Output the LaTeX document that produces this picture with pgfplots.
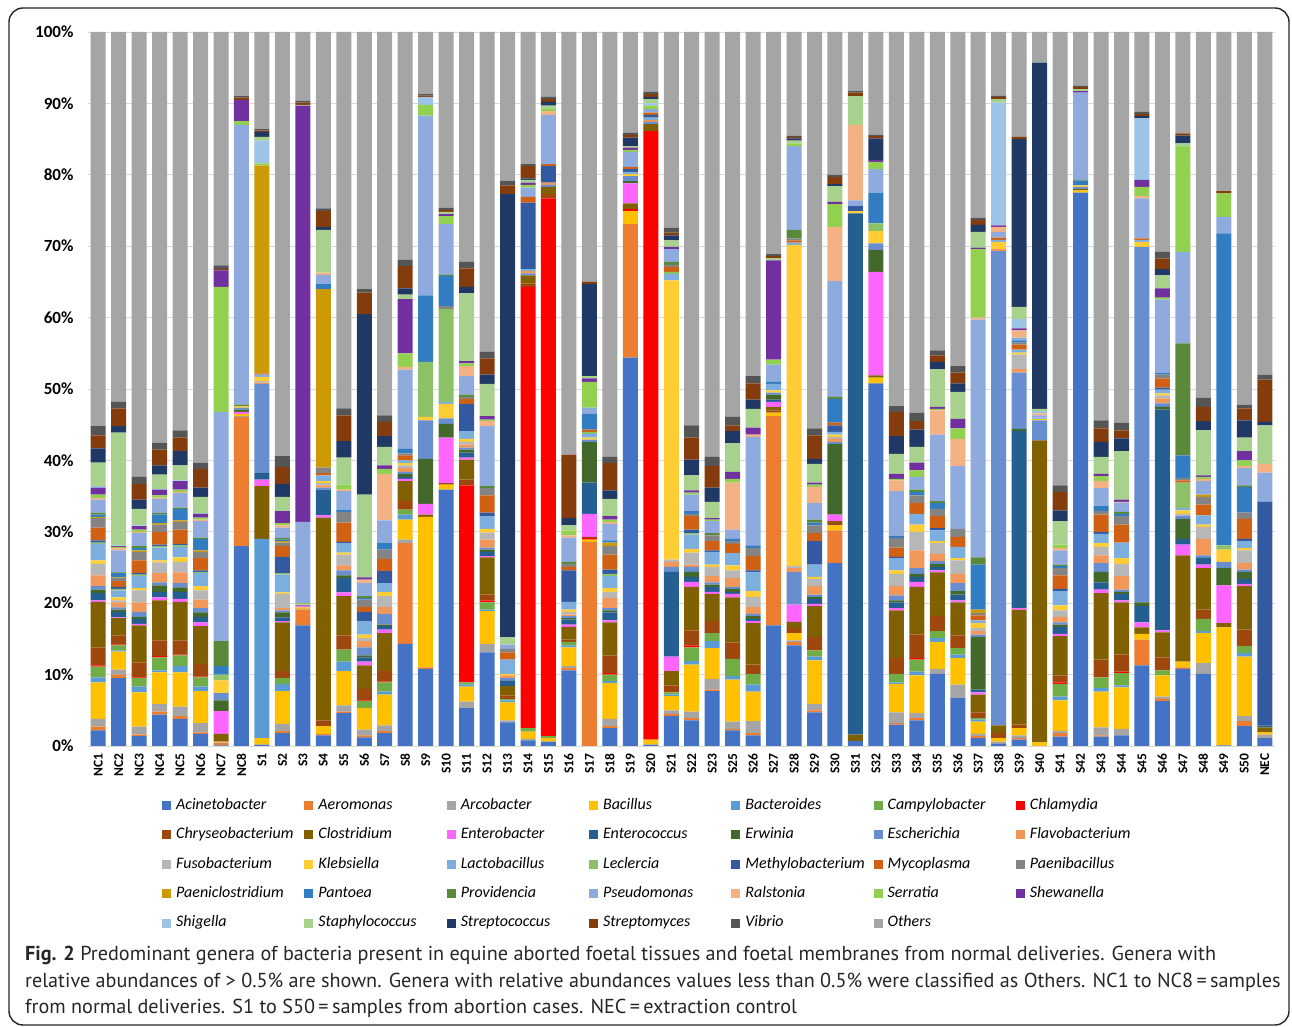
\documentclass[border=0pt]{standalone}
\usepackage{pgfplots}
\usepackage{pgfplotstable}
\pgfplotsset{compat=1.18}
\usepackage{fontspec}
\setmainfont{Carlito}
\newfontfamily\capfont{PT Sans}

% genus colours
\definecolor{cAci}{HTML}{4472C4}
\definecolor{cAer}{HTML}{ED7D31}
\definecolor{cArc}{HTML}{A5A5A5}
\definecolor{cBac}{HTML}{FFC000}
\definecolor{cBact}{HTML}{5B9BD5}
\definecolor{cCamp}{HTML}{70AD47}
\definecolor{cChla}{HTML}{FF0000}
\definecolor{cChry}{HTML}{9E480E}
\definecolor{cClos}{HTML}{806000}
\definecolor{cEntb}{HTML}{FF66FF}
\definecolor{cEntc}{HTML}{255E91}
\definecolor{cErw}{HTML}{43682B}
\definecolor{cEsch}{HTML}{698ED0}
\definecolor{cFlav}{HTML}{F1975A}
\definecolor{cFuso}{HTML}{B7B7B7}
\definecolor{cKleb}{HTML}{FFCD33}
\definecolor{cLact}{HTML}{7CAFDD}
\definecolor{cLecl}{HTML}{8CC168}
\definecolor{cMeth}{HTML}{335AA1}
\definecolor{cMyco}{HTML}{D06014}
\definecolor{cPaeb}{HTML}{848484}
\definecolor{cPaec}{HTML}{CC9A06}
\definecolor{cPant}{HTML}{327DC2}
\definecolor{cProv}{HTML}{5A8A39}
\definecolor{cPseu}{HTML}{8FAADC}
\definecolor{cRalst}{HTML}{F4B183}
\definecolor{cSerr}{HTML}{92D050}
\definecolor{cShew}{HTML}{7030A0}
\definecolor{cShig}{HTML}{9DC3E6}
\definecolor{cStaph}{HTML}{A9D18E}
\definecolor{cStrc}{HTML}{203864}
\definecolor{cStrm}{HTML}{843C0C}
\definecolor{cVib}{HTML}{555555}
\definecolor{cOth}{HTML}{A5A5A5}
\definecolor{gridgray}{HTML}{D9D9D9}

% relative abundance (%) per sample
\pgfplotstableread{
Sample Aci Aer Arc Bac Bact Camp Chla Chry Clos Entb Entc Erw Esch Flav Fuso Kleb Lact Lecl Meth Myco Paeb Paec Pant Prov Pseu Ralst Serr Shew Shig Staph Strc Strm Vib Oth
NC1 2.2 0.5 1.1 5.1 0.7 1.5 0.2 2.5 6.4 0.2 1.0 0.5 0.5 1.5 1.6 0.5 2.3 0.2 0.3 1.8 1.3 0.2 0.3 0.3 1.8 0.2 0.5 1.0 0.2 3.3 2.0 1.8 1.3 55.2
NC2 9.5 0.5 0.7 2.5 0.2 0.7 0.1 1.3 2.4 0.1 0.8 0.3 0.3 0.7 0.3 0.4 1.0 0.2 0.3 0.8 0.4 0.1 0.6 0.1 3.1 0.3 0.2 0.1 0.1 15.8 0.9 2.5 0.9 51.8
NC3 1.4 0.2 1.1 4.8 0.8 1.2 0.1 2.1 5.2 0.2 0.7 0.3 0.7 1.3 1.7 0.3 1.7 0.2 0.2 1.8 1.2 0.2 0.3 0.3 1.8 0.2 0.3 0.5 0.1 2.3 1.3 2.2 1.0 62.3
NC4 4.4 0.4 1.1 4.4 0.3 1.8 0.2 2.2 5.6 0.4 0.8 0.9 0.4 1.3 1.5 0.3 1.8 0.2 0.2 1.8 1.0 0.2 1.2 0.2 2.0 0.2 0.3 0.8 0.1 2.0 1.3 2.2 1.0 57.5
NC5 3.8 0.4 1.3 4.8 0.9 1.5 0.1 2.0 5.4 0.4 1.0 0.6 0.6 1.5 1.5 0.6 1.5 0.2 0.2 2.0 1.1 0.2 1.6 0.2 2.0 0.2 0.3 1.2 0.1 2.1 2.0 1.9 1.0 55.8
NC6 1.7 0.2 1.3 4.5 0.6 1.3 0.1 1.8 5.3 0.5 0.8 0.6 0.6 1.2 1.3 0.6 1.8 0.2 0.2 1.7 0.9 0.2 1.6 0.2 2.3 0.2 0.3 0.5 0.1 2.3 1.3 2.6 0.9 60.3
NC7 0.1 0.3 0.1 0.1 0 0 0 0.1 1.0 3.2 0 1.5 1.0 0 0 1.8 0 0.8 0 0 0 0 1.2 3.5 32.1 0 17.5 2.3 0 0 0 0.2 0.5 32.7
NC8 28.0 18.1 0.1 0.3 0 0 0 0 0 0.3 0 0.3 0.3 0 0 0.2 0 0 0 0 0 0 0 0.2 39.2 0 0.5 3.0 0 0 0 0.3 0.2 9.0
S1 0.2 0 0 0.9 27.9 0 0 0 7.4 0.9 0.9 0 12.5 0.2 0.2 0.6 0.3 0 0 0.2 0 29.1 0 0 0 0 0.3 0 3.2 0.5 0.7 0.2 0.2 13.6
S2 1.8 0.3 1.0 4.6 1.0 0.8 0 1.0 6.8 0.2 0.5 0.7 0.3 0.3 2.0 0.2 2.5 0.2 2.3 1.5 0.5 0.2 0.2 0.2 1.5 0.3 0.3 1.7 0 2.0 1.8 2.4 1.5 59.4
S3 16.9 2.2 0.1 0.2 0 0 0 0 0 0.2 0 0 0.2 0 0 0.1 0 0.1 0 0 0 0 0 0 11.4 0 0 58.3 0 0.1 0 0.3 0.3 9.6
S4 1.5 0.2 0 1.1 0 0 0 0.8 28.4 0.3 3.6 0 0.3 0.3 0.3 0.3 0.8 0 0 0.3 0.8 25.0 0.7 0 1.3 0.3 0 0 0 6.0 0.4 2.2 0.4 24.7
S5 4.6 0.2 0.9 4.8 1.3 1.7 0 2.0 5.5 0.5 2.0 0.4 0.7 0.7 1.5 0.3 1.3 0 0.2 2.7 1.5 0 0.3 0 2.6 0.2 0.7 0 0 3.8 2.3 3.6 1.0 52.7
S6 1.2 0.3 0.8 3.0 0 1.0 0.1 1.6 3.3 0.5 0.6 0.3 1.1 0.9 0.4 0.5 1.9 0 1.3 0.7 1.0 0 0.2 0.3 1.8 0.5 0 0.3 0 11.6 25.3 3.0 0.5 36.0
S7 1.8 0.3 0.8 4.3 0.4 1.3 0.1 1.5 5.3 0.5 0.5 0.2 1.5 1.0 1.5 0.6 1.2 0 1.7 1.7 1.3 0 1.0 0 3.1 6.5 0.7 0.5 0 2.6 1.5 2.0 0.9 53.7
S8 14.3 14.1 0.5 2.8 0.7 0.7 0 1.2 2.8 0.3 0.3 0.4 0.3 0.5 0.4 0.3 0.4 0 0 0.7 0.3 0 0.6 0 11.1 0.4 1.9 7.6 0 0.6 0.9 3.1 0.9 31.9
S9 10.8 0.2 0 21.1 0 0 0 0 0.3 1.5 0 6.3 5.4 0 0 0.5 0 7.7 0 0 0 0 9.3 0 25.2 0 1.5 0 1.1 0 0 0.2 0.2 8.7
S10 35.9 0 0 0.7 0 0 0 0.2 0 6.4 0 1.9 0.8 0 0 2.0 0.3 13.0 0 0 0.4 0 4.2 0.2 7.1 0 1.1 0.3 0 0.3 0 0.3 0.3 24.6
S11 5.3 0 0.9 2.1 0.3 0.3 27.6 0.8 2.8 0.3 0.7 0.4 0.3 0.4 0.4 0.4 1.1 0 3.8 0.7 0.3 0 0 0.3 2.6 1.4 0.4 0.3 0 9.5 0.9 2.6 0.9 32.2
S12 13.1 0 1.2 4.6 0.2 1.0 0.3 0.8 5.2 0.2 0.6 0.3 0.3 1.1 1.0 0.5 1.8 0 0.5 2.4 1.0 0 0 0.3 8.4 0.7 0.2 0.5 0 4.5 1.3 2.3 0.9 44.8
S13 3.3 0 0.3 2.5 0.3 0.2 0 0.5 1.3 0 0.8 0 0.3 0.4 0 0.2 2.0 0 0 1.0 0.5 0 0 0 0.6 0 0 0 0 1.0 62.1 1.2 0.7 20.8
S14 0.8 0 0.2 1.0 0 0.5 61.8 0.5 1.1 0 0 0 0.3 0.3 0 0 0.3 0 9.3 0.8 0 0 0 0 1.3 0 0.4 0.3 0 0.4 0.2 1.7 0.3 18.5
S15 0.6 0 0 0.5 0 0.3 75.3 0.6 1.0 0 0 0 0.3 0.3 0 0 0 0 2.3 0.3 0 0 0 0 6.9 0.5 0.3 0 0 0.5 0.5 0.4 0.3 9.1
S16 10.6 0.3 0.3 2.6 0.3 0.5 0 0.3 1.8 0.3 0.7 0.2 0.3 0.2 0.4 0.3 1.1 0 4.4 0.5 0.4 0 0 0.3 3.4 0.3 0.7 0 0 0.7 1.0 8.9 0 59.2
S17 0 28.6 0 0.3 0 0 0.2 0.2 0 3.2 4.4 5.7 0.3 0 0 0.3 0.5 0.3 0 0.3 0 0 2.2 0 0.9 0 3.6 0.5 0 0.3 12.9 0.3 0 35.0
S18 2.5 0.3 1.0 5.0 0.3 0.9 0.2 2.5 4.6 0.3 1.1 0.3 0.3 1.4 0.9 0.5 1.7 0.3 0.6 2.1 1.2 0.5 0.3 0 2.3 0.3 0.3 0.5 0 2.4 1.2 3.8 0.9 59.5
S19 54.4 18.7 0 1.8 0 0 0.3 0 0.8 2.8 0 0.3 0.7 0 0 0.3 0.3 0 0.4 0.3 0 0 0 0 2.1 0 0.3 0.3 0 0.2 1.2 0.4 0.3 14.1
S20 0.2 0 0 0.7 0 0 85.2 0 1.0 0 0 0 0.3 0.3 0 0 0.3 0 0.4 0.3 0 0 0 0 0.5 0 0.5 0 0.3 0.6 0.3 0.4 0.3 8.4
S21 4.2 0.3 0.5 2.0 0.2 0.3 0 1.0 2.0 2.0 11.9 0 0.7 0.7 0.3 39.1 0.9 0.3 0 0.7 0.3 0 0 0.4 1.8 0 0 0.3 0 0.9 0.7 0.4 0.7 27.4
S22 3.6 0.3 0.9 6.6 0.5 1.9 0.3 2.1 6.1 0.7 0.7 0.7 0.7 0.3 1.7 0.5 2.0 0.2 0.5 1.9 0.3 0 0.4 0 2.3 0 0.3 0.3 0 2.1 2.2 3.1 1.7 55.1
S23 7.7 0.2 1.5 4.3 1.0 1.1 0 1.7 3.8 0.3 0.7 0.3 0.3 0.9 1.3 0.3 1.8 0 0.2 1.3 0.8 0 0 0.3 1.7 0 0.2 0.2 0 2.3 2.0 3.0 1.3 59.5
S25 2.2 0.2 1.0 5.9 0.5 2.4 0 2.3 6.3 0.5 0.3 0.4 0.3 1.2 1.1 0.7 1.7 0 0 1.3 0.4 0 0.3 0 1.3 6.6 0.5 1.0 0 4.0 1.7 0.8 1.2 53.9
S26 1.5 0.3 1.7 4.1 1.0 1.5 0 1.3 5.8 0.3 0.3 0.4 0.3 1.0 1.4 0.8 2.6 0 0.3 2.0 1.1 0 0.4 0 15.2 0.3 0 1.0 0 2.6 1.3 2.3 1.0 48.2
S27 16.9 29.3 0 0.5 0 0 0 0.3 0.5 0.7 0.3 0.7 0.3 0 0 0.3 0.9 0 0 0 0 0 0.3 0 2.4 0 0.7 13.9 0 0.3 0 0.3 0.3 31.1
S28 14.1 0.5 0.2 1.0 0 0 0 0.7 0.9 2.4 0 0 4.6 0.5 0.3 45.0 0.3 0 0 0.3 0.3 0 0 1.2 11.7 0 0.4 0 0 0.4 0.3 0.2 0.2 14.5
S29 4.7 0.3 0.9 6.1 0.5 0.9 0 1.9 4.3 0.3 0.7 0.3 0.3 1.2 1.0 0.3 1.7 0 3.3 1.1 1.1 0 0.4 0.4 2.3 2.3 0.3 0.3 0 2.6 0.7 3.3 1.0 55.5
S30 25.6 4.6 0 0.7 0 0 0 0.3 0.3 0.9 0 9.9 0.3 0.4 0.3 0.3 0.4 0 0.9 0.4 0 0 3.3 0.3 16.2 7.6 3.2 0.3 0 2.2 0.3 1.0 0.3 20.0
S31 0.7 0 0 0 0 0 0 0 0.9 0 73.0 0 0 0 0 0.3 0 0 0.7 0 0 0 0 0 0.8 10.6 0 0 0 4.0 0 0.5 0.2 8.3
S32 50.8 0 0 0.8 0 0 0 0 0.3 14.5 0 3.1 0.9 0 0 1.7 0 1.1 0 0 0 0 4.3 0 3.3 0 1.0 0.3 0 0 3.0 0.3 0.2 14.4
S33 3.0 0.2 1.5 4.0 0.2 1.2 0 2.2 6.7 0.3 0.8 0.3 0.7 1.3 1.7 0.5 1.7 0 0.2 1.3 1.3 0 0.3 0 6.3 1.5 0.2 0.7 0 2.8 2.5 3.4 0.8 52.4
S34 3.6 0.3 0.7 5.3 0.5 1.7 0.2 3.3 6.7 0.7 0.7 0.4 0.8 2.5 2.6 1.0 1.5 0 0 1.5 1.1 0 0.5 0.3 1.8 0 0.9 1.1 0 2.2 2.4 1.2 1.2 53.3
S35 10.1 0 0.7 3.8 0.5 1.0 0 2.1 6.1 0.3 0.5 0.4 0.4 1.0 1.5 0.3 1.5 0 0.3 1.7 1.0 0 0.8 0.3 9.3 3.4 0.2 0.3 0 5.3 1.0 0.9 0.7 44.6
S36 6.7 0 1.9 3.7 0.5 0.9 0 1.8 4.6 0.3 0.8 0.5 1.1 1.3 1.9 0.3 1.6 0 0 1.4 1.1 0 0 0 8.8 3.8 1.5 1.3 0 3.8 1.2 1.5 0.9 46.8
S37 1.1 0.3 0.3 1.7 0.3 0.2 0 0.8 2.5 0.3 0.4 7.4 0.3 0.5 0.4 0.7 0.4 0 0 0.7 0.3 0.5 6.3 1.0 33.3 0.3 9.6 0.2 0 2.2 1.0 0.7 0.3 26.0
S38 0.3 0 0.3 0.5 0 0 0 0.7 1.1 0 0 0 66.4 0.3 0 1.0 0.3 0 0 0.3 0 0 0 0 0.8 0.7 0 0.2 17.2 0.5 0 0.3 0.2 8.9
S39 0.9 0.2 0.4 1.0 0 0 0 0.5 16.1 0.2 24.8 0.3 7.9 0.5 2.0 0.3 0.4 0 0 0.7 0.3 0 0.3 0 0.4 1.0 0 0.3 1.3 1.7 23.5 0.3 0 14.7
S40 0 0 0 0.5 0 0 0 0 42.3 0 0 0 2.8 0 0 0.2 0.2 0 0 0 0 0 0 0 0.3 0.3 0 0 0.3 0.3 48.5 0 0 4.3
S41 1.3 0.5 0.3 4.3 0.5 1.8 0.2 1.0 5.5 0.3 1.0 0.3 0.3 0.8 0.9 0.7 2.0 0 0.3 1.9 1.0 0 0.3 0.2 2.0 0.3 0.5 0 0 3.3 1.5 2.6 0.9 63.5
S42 77.5 0 0 0.3 0 0 0 0 0.2 0 0 0 0.3 0 0 0.2 0 0 0 0 0 0 0.7 0.1 12.2 0 0 0.2 0 0.3 0 0.3 0.2 7.5
S43 1.3 0.2 1.1 5.0 0.5 1.5 0 2.5 9.3 0.5 1.0 1.5 1.2 1.1 1.2 0.5 1.3 0 0.3 2.4 0.5 0 0.7 0 2.5 1.0 0.7 0.3 0 2.4 2.1 1.9 1.1 54.4
S44 1.5 0 0.9 5.8 0.3 1.7 0.2 2.4 7.3 0.3 0.9 0.3 0.3 1.9 1.7 0.8 2.2 0 0 2.5 1.2 0 0.3 0.3 1.3 0.1 0 0.3 0 6.8 1.8 1.1 1.1 54.7
S45 11.3 3.6 0 0.8 0 0 0 0 0.9 0.7 2.3 0.5 49.8 0 0 0.7 0.3 0 0 0.2 0 0 0 0 5.6 0.3 1.3 1.0 8.6 0 0.3 0.3 0.3 11.2
S46 6.3 0.3 0.3 3.0 0 0.7 0 1.8 3.5 0.3 30.9 0.4 0.5 0.7 0.4 0.3 0.5 0 0.3 1.3 0.5 0 0.3 0 10.2 0 0.3 1.3 0 1.8 0.9 1.5 0.9 30.8
S47 10.8 0.2 0 0.8 0 0 0 0 14.9 1.5 0.8 2.8 0.4 0 0.3 0.5 0.3 3.6 0 0.3 0.3 0 3.2 15.7 12.8 0 14.7 0 0 0.5 1.1 0.3 0 14.2
S48 10.1 0 1.5 4.2 0.3 1.7 0 1.3 5.8 0.5 1.0 0 0.3 2.3 1.7 0.3 1.3 0 0 1.5 1.1 0.3 0 0 1.9 0.3 0.3 0.2 0 6.3 1.3 2.0 1.3 51.2
S49 0.1 0 0 16.5 0 0 0 0 0.6 5.3 0 2.4 0.9 0 0 1.7 0 0.6 0 0 0 0 43.7 0 2.3 0 3.3 0 0 0 0 0.3 0 22.3
S50 2.8 0.7 0.7 8.3 0.5 1.0 0 2.3 6.1 0.3 0.7 1.0 0.3 0.9 1.8 0.3 1.0 0 0.3 2.8 0.9 0 3.6 0.2 2.4 0.3 0.8 1.3 0 1.9 2.4 1.7 0.5 52.2
NEC 1.1 0 0.5 0.3 0 0 0 0 0.7 0 0.3 0 0 0 0 0 0 0 31.3 0 0 0 0 0 4.1 1.2 0 0 0 5.4 0.5 5.9 0.7 48.0
}\bacdata

\newcommand{\genus}[2]{\addplot[fill=c#1, draw=none] table[x expr=\coordindex, y=#1]{\bacdata};\addlegendentry{#2}}

\begin{document}
\begin{tikzpicture}[x=1pt,y=1pt]
\useasboundingbox (0,0) rectangle (1292,1027);
\draw[line width=1.4pt, rounded corners=14pt, black!85] (9,2) rectangle (1289,1019);
\begin{axis}[
  at={(88pt,281pt)}, anchor=south west,
  scale only axis, width=1187pt, height=714pt,
  xmin=-0.5, xmax=57.5, ymin=0, ymax=100,
  ybar stacked, bar width=15pt,
  xtick={0,...,57},
  xticklabels from table={\bacdata}{Sample},
  xticklabel style={rotate=90, anchor=east, font=\fontsize{13.5}{13.5}\selectfont\bfseries},
  xticklabel shift=4pt,
  ytick={0,10,...,100},
  yticklabels={0\%,10\%,20\%,30\%,40\%,50\%,60\%,70\%,80\%,90\%,100\%},
  yticklabel style={font=\fontsize{17}{17}\selectfont\bfseries},
  yticklabel shift=11pt,
  major tick length=0pt,
  ymajorgrids, major grid style={draw=gridgray, line width=0.9pt},
  axis x line*=bottom, axis y line*=left,
  x axis line style={draw=gridgray, line width=0.9pt},
  y axis line style={draw=none},
  legend columns=7,
  legend image code/.code={\fill[#1] (0pt,-4.5pt) rectangle (9pt,4.5pt);},
  legend style={at={(0.0623,-0.073)}, anchor=north west, draw=none, fill=none,
    inner sep=0pt, row sep=14.9pt,
    font=\fontsize{16}{16.5}\selectfont\itshape,
    nodes={inner sep=0pt, text width=126pt, align=left, text height=11pt, text depth=3.5pt},
    /tikz/every odd column/.append style={column sep=5pt},
    /tikz/every even column/.append style={column sep=2.3pt}},
]
\genus{Aci}{Acinetobacter}
\genus{Aer}{Aeromonas}
\genus{Arc}{Arcobacter}
\genus{Bac}{Bacillus}
\genus{Bact}{Bacteroides}
\genus{Camp}{Campylobacter}
\genus{Chla}{Chlamydia}
\genus{Chry}{Chryseobacterium}
\genus{Clos}{Clostridium}
\genus{Entb}{Enterobacter}
\genus{Entc}{Enterococcus}
\genus{Erw}{Erwinia}
\genus{Esch}{Escherichia}
\genus{Flav}{Flavobacterium}
\genus{Fuso}{Fusobacterium}
\genus{Kleb}{Klebsiella}
\genus{Lact}{Lactobacillus}
\genus{Lecl}{Leclercia}
\genus{Meth}{Methylobacterium}
\genus{Myco}{Mycoplasma}
\genus{Paeb}{Paenibacillus}
\genus{Paec}{Paeniclostridium}
\genus{Pant}{Pantoea}
\genus{Prov}{Providencia}
\genus{Pseu}{Pseudomonas}
\genus{Ralst}{Ralstonia}
\genus{Serr}{Serratia}
\genus{Shew}{Shewanella}
\genus{Shig}{Shigella}
\genus{Staph}{Staphylococcus}
\genus{Strc}{Streptococcus}
\genus{Strm}{Streptomyces}
\genus{Vib}{Vibrio}
\genus{Oth}{Others}
\end{axis}
\begin{scope}[every node/.style={anchor=base west, inner sep=0pt, text=black!85, font=\capfont\fontsize{20.2}{20.2}\selectfont}]
\node at (25,66) {\textbf{Fig. 2} Predominant genera of bacteria present in equine aborted foetal tissues and foetal membranes from normal deliveries. Genera with};
\node at (25,39) {relative abundances of > 0.5\% are shown. Genera with relative abundances values less than 0.5\% were classified as Others. NC1 to NC8\,=\,samples};
\node at (25,13) {from normal deliveries. S1 to S50\,=\,samples from abortion cases. NEC\,=\,extraction control};
\end{scope}
\end{tikzpicture}
\end{document}
